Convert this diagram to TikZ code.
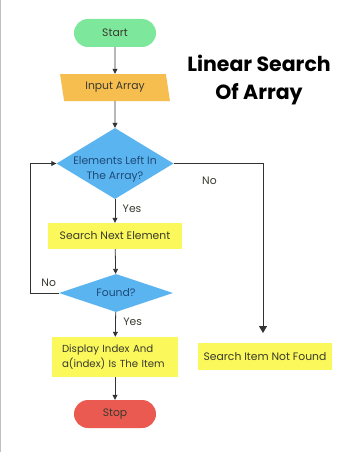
\documentclass[tikz,border=0pt]{standalone}
\usepackage{fontspec}
\setmainfont{Poppins}
\usetikzlibrary{shapes.geometric,shapes.misc,arrows.meta}
\definecolor{startgreen}{HTML}{7DE89B}
\definecolor{inorange}{HTML}{F5BE4F}
\definecolor{decblue}{HTML}{5AB4F0}
\definecolor{procyellow}{HTML}{FAF85A}
\definecolor{stopred}{HTML}{EB5A50}
\definecolor{ink}{HTML}{3A3A30}
\definecolor{blueink}{HTML}{1E4A78}
\definecolor{wire}{HTML}{333333}
\tikzset{
  x=1pt, y=-1pt,
  txt/.style={font=\fontsize{10.8}{15}\selectfont, text=ink},
  terminal/.style={txt, rounded rectangle, minimum width=82pt, minimum height=28pt, inner sep=0pt},
  iobox/.style={txt, trapezium, trapezium left angle=103, trapezium right angle=77,
    trapezium stretches=true, minimum width=110pt, minimum height=27pt, inner sep=0pt, fill=inorange},
  procbox/.style={txt, rectangle, fill=procyellow, inner sep=0pt, align=left},
  decision/.style={diamond, fill=decblue, inner sep=0pt, aspect=1.6},
  dectext/.style={txt, text=blueink, align=center},
  flow/.style={draw=wire, line width=0.8pt, -{Triangle[length=5pt,width=5pt]}},
  bigflow/.style={draw=wire, line width=0.8pt, -{Triangle[length=7pt,width=8pt]}},
  tag/.style={txt, text=ink},
  heading/.style={font=\fontsize{20.5}{28}\bfseries\selectfont, align=center, text=black}
}
\begin{document}
\begin{tikzpicture}
  \fill[white] (0,0) rectangle (354,452);
  \useasboundingbox (0,0) rectangle (354,452);
  \draw[black!25, line width=1pt] (0.5,0) -- (0.5,452);

  \node[terminal, fill=startgreen] (start) at (115,33) {Start};
  \node[iobox] (input) at (115,87.5) {Input Array};
  \node[decision, minimum width=117pt, minimum height=71pt,
        label={[dectext, yshift=-6pt]center:Elements Left In\\The Array?}] (left) at (115,163.5) {};
  \node[procbox, minimum width=134pt, minimum height=26pt] (next) at (115,236) {Search Next Element};
  \node[decision, minimum width=114pt, minimum height=38pt,
        label={[dectext]center:Found?}] (found) at (116,293) {};
  \node[procbox, minimum width=126pt, minimum height=40pt, text width=106pt,
        font=\fontsize{10.2}{15}\selectfont] (show) at (115,357)
        {Display Index And\\a(index) Is The Item};
  \node[terminal, fill=stopred] (stop) at (115,414) {Stop};
  \node[procbox, minimum width=134pt, minimum height=27pt] (notfound) at (265,356.5) {Search Item Not Found};

  \node[heading] (title) at (259,80) {Linear Search\\Of Array};

  \coordinate (nfend) at (263,333);
  \coordinate (loopx) at (30,0);

  \draw[flow] (start) -- (input);
  \draw[flow] (input) -- (left);
  \draw[flow] (left) -- node[tag, right, pos=0.4, xshift=4pt] {Yes} (next);
  \draw[flow] (next) -- (found);
  \draw[flow] (found) -- node[tag, right, pos=0.4, xshift=4pt] {Yes} (show);
  \draw[flow] (show) -- (stop);
  \draw[bigflow] (left.east) -| node[tag, pos=0.2, below, yshift=-10pt] {No} (nfend);
  \draw[flow] (found.west) -- node[tag, pos=0.35, above, yshift=3pt] {No} (loopx |- found.west)
     |- (left.west);
\end{tikzpicture}
\end{document}
